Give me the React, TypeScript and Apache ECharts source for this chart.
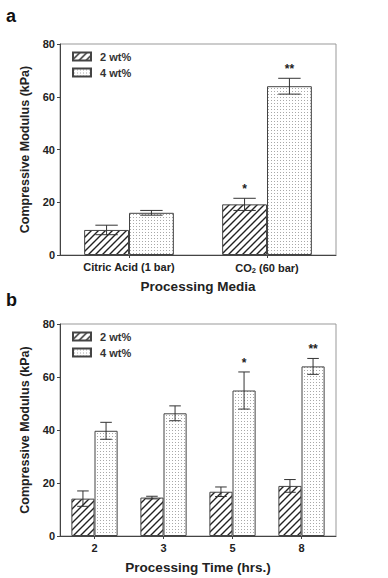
import React, { useEffect, useRef } from 'react';
import * as echarts from 'echarts';

// ---- Data ----
const categoriesA = ['Citric Acid (1 bar)', 'CO2 (60 bar)'];
const a2wt = [9.5, 19.2];
const a2wtErr = [1.8, 2.3];
const a2wtStars = ['', '*'];
const a4wt = [16, 64];
const a4wtErr = [0.9, 3];
const a4wtStars = ['', '**'];

const categoriesB = ['2', '3', '5', '8'];
const b2wt = [14.1, 14.5, 16.7, 18.9];
const b2wtErr = [2.9, 0.5, 1.8, 2.4];
const b2wtStars = ['', '', '', ''];
const b4wt = [39.7, 46.3, 54.9, 64];
const b4wtErr = [3.2, 2.8, 7, 3];
const b4wtStars = ['', '', '*', '**'];

const yTicks = { min: 0, max: 80, interval: 20 };
const seriesNames = ['2 wt%', '4 wt%'];

const FONT = '"Liberation Sans", Arial, sans-serif';

function makePattern(kind: 'hatch' | 'dots') {
  const c = document.createElement('canvas');
  if (kind === 'hatch') {
    const s = 7;
    c.width = s; c.height = s;
    const ctx = c.getContext('2d')!;
    ctx.fillStyle = '#fff';
    ctx.fillRect(0, 0, s, s);
    ctx.strokeStyle = '#222';
    ctx.lineWidth = 1.4;
    ctx.beginPath();
    ctx.moveTo(-1, s + 1); ctx.lineTo(s + 1, -1);
    ctx.moveTo(-2, 2); ctx.lineTo(2, -2);
    ctx.moveTo(s - 2, s + 2); ctx.lineTo(s + 2, s - 2);
    ctx.stroke();
    return { image: c.toDataURL(), repeat: 'repeat', imageWidth: s, imageHeight: s };
  }
  const s = 3;
  c.width = s; c.height = s;
  const ctx = c.getContext('2d')!;
  ctx.fillStyle = '#fff';
  ctx.fillRect(0, 0, s, s);
  ctx.fillStyle = '#a8a8a8';
  ctx.fillRect(1, 1, 1, 1);
  return { image: c.toDataURL(), repeat: 'repeat', imageWidth: s, imageHeight: s };
}

function errSeries(idx: number, values: number[], errs: number[], stars: string[], side: number, gap: number) {
  return {
    type: 'custom',
    name: 'err' + idx + side,
    xAxisIndex: idx,
    yAxisIndex: idx,
    z: 5,
    silent: true,
    data: values.map((v, i) => [i, v, errs[i]]),
    encode: { x: 0, y: 1 },
    renderItem: (params: any, api: any) => {
      const cat = api.value(0);
      const v = api.value(1);
      const e = api.value(2);
      const c = api.coord([cat, v]);
      const band = api.size([1, 0])[0];
      const bw = (band * (1 - gap)) / 2;
      const x = c[0] + (side * bw) / 2;
      const top = api.coord([cat, v + e])[1];
      const bot = api.coord([cat, v - e])[1];
      const cw = bw * 0.5;
      const st = { stroke: '#333', lineWidth: 1 };
      const children: any[] = [
        { type: 'line', shape: { x1: x, y1: top, x2: x, y2: bot }, style: st },
        { type: 'line', shape: { x1: x - cw / 2, y1: top, x2: x + cw / 2, y2: top }, style: st },
        { type: 'line', shape: { x1: x - cw / 2, y1: bot, x2: x + cw / 2, y2: bot }, style: st },
      ];
      const star = stars[params.dataIndex];
      if (star) {
        children.push({
          type: 'text',
          x: x,
          y: top - 3,
          style: {
            text: star,
            fill: '#222',
            font: 'bold 12px ' + FONT,
            textAlign: 'center',
            textVerticalAlign: 'bottom',
          },
        });
      }
      return { type: 'group', children };
    },
  };
}

export default function App() {
  const ref = useRef<HTMLDivElement>(null);
  useEffect(() => {
    if (!ref.current) return;
    const chart = echarts.init(ref.current, undefined, { renderer: 'svg' });
    const hatch = makePattern('hatch');
    const dots = makePattern('dots');
    const gapA = 0.35;
    const gapB = 0.33;

    const axisLabel = { fontFamily: FONT, fontWeight: 'bold', fontSize: 11, color: '#222' };
    const axisLine = { show: true, lineStyle: { color: '#444', width: 1 } };
    const axisName = { fontFamily: FONT, fontWeight: 'bold', fontSize: 13.5, color: '#222' };

    const mkY = (idx: number) => ({
      type: 'value',
      gridIndex: idx,
      min: yTicks.min,
      max: yTicks.max,
      interval: yTicks.interval,
      name: 'Compressive Modulus (kPa)',
      nameLocation: 'middle',
      nameGap: 28,
      nameTextStyle: { ...axisName, fontSize: 12.5 },
      axisLine,
      axisTick: { show: true, length: 3, lineStyle: { color: '#444' } },
      axisLabel: { ...axisLabel, margin: 5 },
      splitLine: { show: false },
    });

    const legendCommon = {
      orient: 'vertical',
      icon: 'rect',
      itemWidth: 18,
      itemHeight: 8,
      itemGap: 5,
      padding: 0,
      selectedMode: false,
      data: seriesNames,
      textStyle: { fontFamily: FONT, fontWeight: 'bold', fontSize: 11, color: '#333', padding: [0, 0, 0, 4] },
    };

    const barStyle = (pat: any) => ({ color: pat, borderColor: '#444', borderWidth: 1 });

    const option: any = {
      animation: false,
      backgroundColor: '#fff',
      graphic: [
        { type: 'text', left: 6, top: 7, style: { text: 'a', font: 'bold 18px ' + FONT, fill: '#111' } },
        { type: 'text', left: 6, top: 291, style: { text: 'b', font: 'bold 18px ' + FONT, fill: '#111' } },
      ],
      legend: [
        { ...legendCommon, left: 72, top: 51 },
        { ...legendCommon, left: 72, top: 331 },
      ],
      grid: [
        { left: 60, top: 44, width: 276, height: 211, show: true, borderColor: '#999', borderWidth: 1 },
        { left: 60, top: 324, width: 276, height: 212, show: true, borderColor: '#999', borderWidth: 1 },
      ],
      xAxis: [
        {
          type: 'category',
          gridIndex: 0,
          data: categoriesA,
          name: 'Processing Media',
          nameLocation: 'middle',
          nameGap: 24,
          nameTextStyle: axisName,
          axisLine,
          axisTick: { show: true, alignWithLabel: true, length: 3, lineStyle: { color: '#444' } },
          axisLabel: {
            ...axisLabel,
            margin: 6,
            interval: 0,
            formatter: (v: string) => (v.indexOf('CO2') === 0 ? '{a|CO}{s|2}{a|' + v.slice(3) + '}' : '{a|' + v + '}'),
            rich: {
              a: { fontFamily: FONT, fontWeight: 'bold', fontSize: 11, color: '#222' },
              s: { fontFamily: FONT, fontWeight: 'bold', fontSize: 7.5, color: '#222', padding: [5, 0, 0, 0] },
            },
          },
        },
        {
          type: 'category',
          gridIndex: 1,
          data: categoriesB,
          name: 'Processing Time (hrs.)',
          nameLocation: 'middle',
          nameGap: 24,
          nameTextStyle: axisName,
          axisLine,
          axisTick: { show: true, alignWithLabel: true, length: 3, lineStyle: { color: '#444' } },
          axisLabel: { ...axisLabel, margin: 6, interval: 0 },
        },
      ],
      yAxis: [mkY(0), mkY(1)],
      series: [
        { type: 'bar', name: seriesNames[0], xAxisIndex: 0, yAxisIndex: 0, data: a2wt, barGap: '0%', barCategoryGap: gapA * 100 + '%', itemStyle: barStyle(hatch) },
        { type: 'bar', name: seriesNames[1], xAxisIndex: 0, yAxisIndex: 0, data: a4wt, barGap: '0%', barCategoryGap: gapA * 100 + '%', itemStyle: barStyle(dots) },
        { type: 'bar', name: seriesNames[0], xAxisIndex: 1, yAxisIndex: 1, data: b2wt, barGap: '0%', barCategoryGap: gapB * 100 + '%', itemStyle: barStyle(hatch) },
        { type: 'bar', name: seriesNames[1], xAxisIndex: 1, yAxisIndex: 1, data: b4wt, barGap: '0%', barCategoryGap: gapB * 100 + '%', itemStyle: barStyle(dots) },
        errSeries(0, a2wt, a2wtErr, a2wtStars, -1, gapA),
        errSeries(0, a4wt, a4wtErr, a4wtStars, 1, gapA),
        errSeries(1, b2wt, b2wtErr, b2wtStars, -1, gapB),
        errSeries(1, b4wt, b4wtErr, b4wtStars, 1, gapB),
      ],
    };
    chart.setOption(option);
    return () => chart.dispose();
  }, []);
  return <div ref={ref} style={{ position: 'fixed', left: 0, top: 0, width: 388, height: 578, background: '#fff' }} />;
}
